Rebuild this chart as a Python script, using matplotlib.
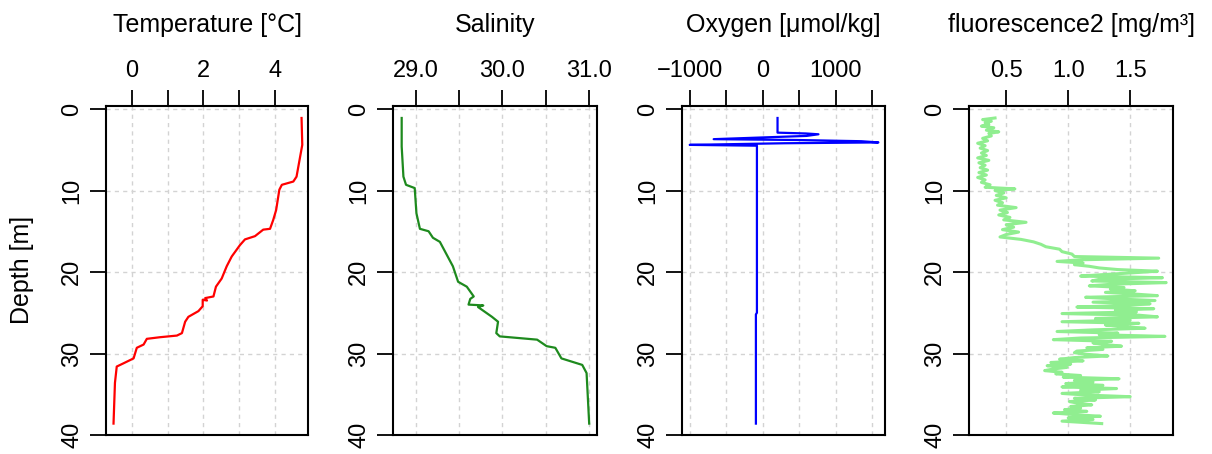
import matplotlib.pyplot as plt

# --- temperature profile (depth in m, degC)
temp_depth = [1.1, 4.4, 8.3, 8.9, 9.3, 9.9, 12.4, 13.6, 14.7, 14.8, 15.6, 16.0, 16.7,
              18.1, 19.3, 20.8, 21.8, 23.0, 23.2, 23.5, 23.4, 24.2, 24.8, 25.5, 26.1,
              27.5, 27.8, 28.0, 28.2, 28.9, 29.3, 30.6, 31.2, 31.6, 33.6, 38.6]
temp_val = [4.74, 4.76, 4.60, 4.51, 4.19, 4.12, 4.03, 3.95, 3.86, 3.67, 3.44, 3.16, 3.02,
            2.79, 2.65, 2.51, 2.35, 2.28, 2.05, 2.10, 1.98, 1.98, 1.86, 1.58, 1.49,
            1.40, 1.26, 0.79, 0.42, 0.33, 0.14, 0.05, -0.23, -0.42, -0.47, -0.51]

# --- salinity profile
sal_depth = [1.1, 4.6, 8.3, 9.3, 9.7, 12.8, 14.7, 15.0, 15.8, 16.3, 17.9, 19.3, 21.2,
             21.8, 23.0, 23.3, 24.0, 24.1, 24.3, 25.5, 26.1, 27.5, 27.9, 28.3, 29.1,
             29.3, 30.6, 31.4, 32.4, 38.6]
sal_val = [28.84, 28.84, 28.86, 28.89, 28.99, 29.01, 29.05, 29.15, 29.20, 29.28, 29.36,
           29.43, 29.49, 29.59, 29.67, 29.63, 29.61, 29.78, 29.72, 29.88, 29.95, 29.93,
           29.97, 30.40, 30.51, 30.61, 30.68, 30.92, 30.97, 31.00]

# --- oxygen profile (umol/kg), spiky near the surface
oxy_depth = [1.1, 2.9, 3.0, 3.1, 3.3, 3.7, 3.8, 3.95, 4.1, 4.2, 4.4, 4.5, 25.0, 25.2, 38.6]
oxy_val = [201, 201, 590, 763, 600, -676, 450, 1350, 1586, 300, -1005, -82, -82, -96, -96]

# --- fluorescence profile (mg/m3)
fl_depth = [1.1, 1.3, 1.5, 1.7, 1.9, 2.1, 2.3, 2.6, 2.8, 3.0,
            3.3, 3.6, 3.9, 4.2, 4.5, 4.8, 5.1, 5.4, 5.7, 6.0,
            6.3, 6.6, 6.9, 7.2, 7.5, 7.8, 8.1, 8.4, 8.7, 9.0,
            9.3, 9.6, 9.8, 10.0, 10.3, 10.6, 10.9, 11.2, 11.5, 11.8,
            12.1, 12.4, 12.7, 13.0, 13.3, 13.6, 13.9, 14.2, 14.5, 14.8,
            15.1, 15.4, 15.7, 16.0, 16.3, 16.6, 16.9, 17.2, 17.5, 17.8,
            18.1, 18.3, 18.5, 18.7, 18.9, 19.1, 19.3, 19.5, 19.7, 19.9,
            20.1, 20.3, 20.5, 20.7, 20.9, 21.1, 21.3, 21.5, 21.7, 21.9,
            22.1, 22.3, 22.5, 22.7, 22.9, 23.1, 23.3, 23.5, 23.7, 23.9,
            24.1, 24.3, 24.5, 24.7, 24.9, 25.1, 25.3, 25.5, 25.7, 25.9,
            26.1, 26.3, 26.5, 26.7, 26.9, 27.1, 27.3, 27.5, 27.7, 27.9,
            28.1, 28.3, 28.5, 28.7, 28.9, 29.1, 29.3, 29.5, 29.7, 29.9,
            30.1, 30.3, 30.5, 30.7, 30.9, 31.1, 31.3, 31.5, 31.7, 31.9,
            32.1, 32.3, 32.5, 32.7, 32.9, 33.1, 33.3, 33.5, 33.7, 33.9,
            34.1, 34.3, 34.5, 34.7, 34.9, 35.1, 35.3, 35.5, 35.7, 35.9,
            36.1, 36.3, 36.5, 36.7, 36.9, 37.1, 37.3, 37.5, 37.7, 37.9, 38.1, 38.3, 38.6]
fl_val = [0.41, 0.31, 0.38, 0.33, 0.36, 0.30, 0.40, 0.34, 0.44, 0.36,
          0.38, 0.31, 0.35, 0.27, 0.33, 0.29, 0.35, 0.30, 0.34, 0.27,
          0.36, 0.28, 0.33, 0.29, 0.35, 0.28, 0.34, 0.27, 0.33, 0.30,
          0.37, 0.33, 0.57, 0.41, 0.48, 0.42, 0.50, 0.41, 0.47, 0.43,
          0.58, 0.45, 0.51, 0.44, 0.53, 0.48, 0.66, 0.50, 0.56, 0.47,
          0.60, 0.50, 0.45, 0.62, 0.72, 0.78, 0.82, 0.93, 0.95, 1.03,
          1.05, 1.73, 1.10, 0.91, 1.12, 1.05, 1.17, 1.25, 1.40, 1.72,
          1.52, 1.30, 1.10, 1.76, 1.25, 1.19, 1.79, 1.35, 1.17, 1.45,
          1.34, 1.54, 1.30, 1.53, 1.72, 1.14, 1.38, 1.70, 1.20, 1.66,
          1.46, 1.07, 1.69, 1.38, 1.55, 0.95, 1.57, 1.72, 1.22, 1.50,
          0.95, 1.57, 1.30, 1.45, 1.62, 1.20, 0.91, 1.40, 1.25, 1.78,
          1.10, 0.88, 1.35, 1.20, 1.30, 1.43, 1.15, 1.28, 1.07, 1.05,
          1.15, 1.32, 1.05, 0.93, 1.12, 0.86, 1.02, 0.83, 0.99, 0.88,
          0.81, 0.95, 0.90, 1.10, 0.96, 1.41, 1.05, 1.20, 0.98, 1.28,
          0.95, 1.39, 1.10, 1.25, 0.95, 1.15, 1.50, 1.05, 1.22, 1.01,
          1.08, 1.19, 1.02, 1.10, 0.97, 1.15, 0.88, 1.05, 1.26, 1.00, 1.20, 0.95, 1.27]

depth_ticks = [0, 10, 20, 30, 40]

temp_ticks = [0, 1, 2, 3, 4]
temp_labels = ['0', '', '2', '', '4']
sal_ticks = [29.0, 29.5, 30.0, 30.5, 31.0]
sal_labels = ['29.0', '', '30.0', '', '31.0']
oxy_ticks = [-1000, -500, 0, 500, 1000, 1500]
oxy_labels = ['\u22121000', '', '0', '', '1000', '']
fl_ticks = [0.5, 1.0, 1.5]
fl_labels = ['0.5', '1.0', '1.5']

plt.rcParams['font.family'] = ['Liberation Sans', 'DejaVu Sans']

fig = plt.figure(figsize=(12.12, 4.54), dpi=100)

W, H = 1212, 454
box_top, box_bottom = 106, 435

# (left px, right px, x, y, colour, lw, xlim, ticks, labels, title)
panels = [
    (106, 308, temp_val, temp_depth, 'red', 1.6, (-0.72, 4.92), temp_ticks, temp_labels,
     'Temperature [\u00b0C]'),
    (393, 597, sal_val, sal_depth, '#1e8a1e', 1.6, (28.74, 31.09), sal_ticks, sal_labels,
     'Salinity'),
    (682, 885, oxy_val, oxy_depth, 'blue', 1.6, (-1111, 1677), oxy_ticks, oxy_labels,
     'Oxygen [\u03bcmol/kg]'),
    (969, 1173, fl_val, fl_depth, 'lightgreen', 2.2, (0.20, 1.845), fl_ticks, fl_labels,
     'fluorescence2 [mg/m\u00b3]'),
]

for left, right, xs, ys, col, lw, xlim, ticks, labels, title in panels:
    ax = fig.add_axes([left / W, 1 - box_bottom / H, (right - left) / W,
                       (box_bottom - box_top) / H])
    ax.plot(xs, ys, color=col, linewidth=lw)
    ax.set_xlim(*xlim)
    ax.set_ylim(40, -0.37)
    ax.set_xticks(ticks)
    ax.set_xticklabels(labels)
    ax.set_yticks(depth_ticks)
    ax.set_yticklabels([str(d) for d in depth_ticks], rotation=90, va='center')
    ax.xaxis.tick_top()
    ax.tick_params(axis='x', direction='out', length=11.5, width=1.3, labelsize=17, pad=6)
    ax.tick_params(axis='y', direction='out', length=11.5, width=1.3, labelsize=17, pad=5)
    ax.grid(True, color='#d3d3d3', linestyle=(0, (3, 3)), linewidth=1)
    for sp in ax.spines.values():
        sp.set_linewidth(1.5)
    fig.text((left + right) / 2 / W, 1 - 32 / H, title, ha='center', va='baseline',
             fontsize=18)

fig.text(22 / W, 1 - 270 / H, 'Depth [m]', rotation=90, ha='center', va='center',
         fontsize=18)

fig.savefig('out.png', dpi=100)
